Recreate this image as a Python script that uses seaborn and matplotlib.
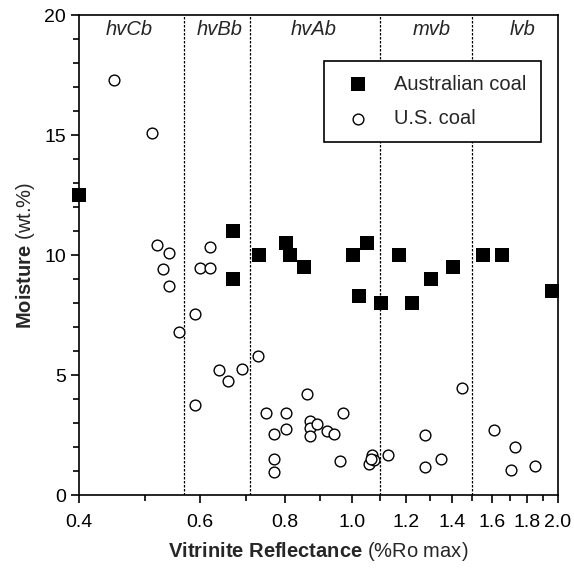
import matplotlib
matplotlib.use("Agg")
import matplotlib.pyplot as plt
import seaborn as sns
import pandas as pd
from matplotlib.ticker import FixedLocator, NullFormatter, MultipleLocator

# Australian coal
aus_x = [0.40, 0.672, 0.672, 0.732, 0.802, 0.813, 0.853, 1.003, 1.054, 1.024, 1.103,
         1.173, 1.223, 1.304, 1.404, 1.554, 1.655, 1.958]
aus_y = [12.5, 11.0, 9.0, 10.0, 10.5, 10.0, 9.5, 10.0, 10.5, 8.3, 8.0,
         10.0, 8.0, 9.0, 9.5, 10.0, 10.0, 8.5]

# U.S. coal
us_x = [0.450, 0.511, 0.520, 0.541, 0.531, 0.541, 0.560, 0.591, 0.591, 0.601, 0.621,
        0.621, 0.641, 0.661, 0.691, 0.731, 0.751, 0.771, 0.771, 0.771, 0.801, 0.801,
        0.860, 0.869, 0.869, 0.869, 0.891, 0.920, 0.941, 0.970, 0.960, 1.060, 1.072,
        1.078, 1.068, 1.130, 1.280, 1.280, 1.351, 1.450, 1.611, 1.733, 1.710, 1.851]
us_y = [17.3, 15.1, 10.4, 10.1, 9.4, 8.7, 6.8, 7.55, 3.75, 9.45, 10.35,
        9.45, 5.2, 4.75, 5.25, 5.8, 3.4, 2.55, 1.5, 0.95, 3.4, 2.75,
        4.2, 3.1, 2.8, 2.45, 2.95, 2.65, 2.55, 3.4, 1.4, 1.3, 1.65,
        1.45, 1.5, 1.65, 2.5, 1.15, 1.5, 4.45, 2.7, 2.0, 1.05, 1.2]

rank_bounds = [0.57, 0.71, 1.10, 1.50]
rank_labels = ["hvCb", "hvBb", "hvAb", "mvb", "lvb"]
rank_label_x = [0.474, 0.641, 0.881, 1.308, 1.776]

x_ticks = [0.4, 0.6, 0.8, 1.0, 1.2, 1.4, 1.6, 1.8, 2.0]
x_tick_labels = ["0.4", "0.6", "0.8", "1.0", "1.2", "1.4", "1.6", "1.8", "2.0"]
x_minor = [0.5, 0.7, 0.9, 1.1, 1.3, 1.5, 1.7, 1.9]
y_ticks = [0, 5, 10, 15, 20]

sns.set_style("ticks")
plt.rcParams["font.family"] = ["Liberation Sans", "DejaVu Sans"]
plt.rcParams["mathtext.fontset"] = "custom"
plt.rcParams["mathtext.rm"] = "Liberation Sans"
plt.rcParams["mathtext.bf"] = "Liberation Sans:bold"
plt.rcParams["mathtext.it"] = "Liberation Sans:italic"

fig = plt.figure(figsize=(5.74, 5.70), dpi=100)
ax = fig.add_axes([79/574, 75/570, (558-79)/574, (495-15)/570])

df_aus = pd.DataFrame({"x": aus_x, "y": aus_y})
df_us = pd.DataFrame({"x": us_x, "y": us_y})

sns.scatterplot(data=df_aus, x="x", y="y", marker="s", s=90, color="black",
                edgecolor="black", linewidth=0, ax=ax, label="Australian coal", zorder=3,
                clip_on=False)
sns.scatterplot(data=df_us, x="x", y="y", marker="o", s=60, facecolor="white",
                edgecolor="black", linewidth=1.0, ax=ax, label="U.S. coal", zorder=3,
                clip_on=False)

ax.set_xscale("log")
ax.set_xlim(0.4, 2.0)
ax.set_ylim(0, 20)

for b in rank_bounds:
    ax.axvline(b, color="black", linestyle=(0, (2, 1.2)), linewidth=0.9, zorder=1)

for lab, lx in zip(rank_labels, rank_label_x):
    ax.text(lx, 19.4, lab, ha="center", va="center", fontsize=14.5, style="italic")

ax.xaxis.set_major_locator(FixedLocator(x_ticks))
ax.set_xticklabels(x_tick_labels)
ax.xaxis.set_minor_locator(FixedLocator(x_minor))
ax.xaxis.set_minor_formatter(NullFormatter())
ax.yaxis.set_major_locator(FixedLocator(y_ticks))
ax.yaxis.set_minor_locator(MultipleLocator(1))

ax.tick_params(axis="both", which="major", direction="out", length=6, width=1.2,
               labelsize=14, color="black", labelcolor="black")
ax.tick_params(axis="both", which="minor", direction="out", length=4, width=1.2,
               color="black")
ax.tick_params(axis="x", which="major", pad=8)

for sp in ax.spines.values():
    sp.set_linewidth(1.2)
    sp.set_color("black")
    sp.set_visible(True)

ax.set_xlabel(r"$\bf{Vitrinite\ Reflectance}$ (%Ro max)", fontsize=14.5, labelpad=6)
ax.set_ylabel(r"$\bf{Moisture}$ (wt.%)", fontsize=14.5, labelpad=5)

leg = ax.legend(loc="upper right", bbox_to_anchor=(0.964, 0.905), borderaxespad=0,
                fontsize=14.5, frameon=True, fancybox=False, edgecolor="black",
                handletextpad=0.8, borderpad=0.7, labelspacing=0.75)
leg.get_frame().set_linewidth(1.2)
leg.get_frame().set_alpha(1)

fig.savefig("out.png", dpi=100)
